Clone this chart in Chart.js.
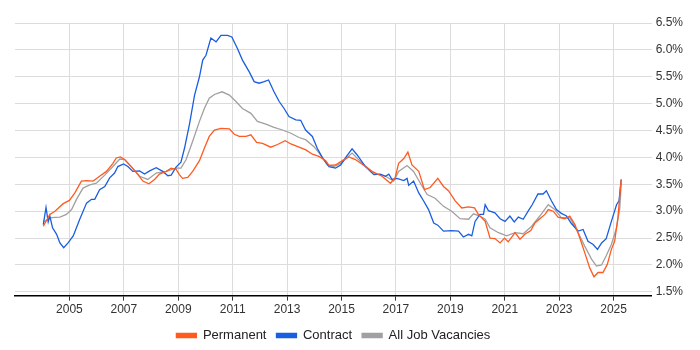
<!DOCTYPE html>
<html>
<head>
<meta charset="utf-8">
<script src="https://cdn.jsdelivr.net/npm/chart.js@4.4.1/dist/chart.umd.min.js"></script>
<style>
  html, body { margin: 0; padding: 0; background: #fff; }
  #wrap { width: 700px; height: 350px; position: relative; }
</style>
</head>
<body>
<div id="wrap"><canvas id="trendChart"></canvas></div>
<script>
// Year ticks shown on the x axis and percentage ticks on the y axis
const yearTicks = [2005, 2007, 2009, 2011, 2013, 2015, 2017, 2019, 2021, 2023, 2025];
const pctTicks = [1.5, 2.0, 2.5, 3.0, 3.5, 4.0, 4.5, 5.0, 5.5, 6.0, 6.5];

// Permanent
const permYears = [2004.04, 2004.28, 2004.47, 2004.77, 2005.0, 2005.2, 2005.44, 2005.63, 2005.87, 2006.11,
  2006.36, 2006.6, 2006.72, 2006.87, 2007.03, 2007.27, 2007.52, 2007.7, 2007.92, 2008.13,
  2008.31, 2008.56, 2008.74, 2008.92, 2009.04, 2009.16, 2009.35, 2009.53, 2009.78, 2009.96,
  2010.14, 2010.33, 2010.57, 2010.88, 2011.06, 2011.24, 2011.49, 2011.67, 2011.88, 2012.1,
  2012.4, 2012.65, 2012.93, 2013.14, 2013.44, 2013.69, 2013.93, 2014.17, 2014.42, 2014.54,
  2014.78, 2015.03, 2015.27, 2015.51, 2015.88, 2016.12, 2016.49, 2016.8, 2016.97, 2017.1,
  2017.29, 2017.44, 2017.59, 2017.84, 2018.05, 2018.26, 2018.54, 2018.75, 2018.93, 2019.18,
  2019.42, 2019.67, 2019.89, 2020.03, 2020.28, 2020.46, 2020.64, 2020.83, 2020.99, 2021.13,
  2021.38, 2021.56, 2021.74, 2021.96, 2022.11, 2022.29, 2022.48, 2022.6, 2022.78, 2022.96,
  2023.21, 2023.39, 2023.58, 2023.76, 2023.94, 2024.12, 2024.28, 2024.43, 2024.61, 2024.77,
  2024.92, 2025.04, 2025.16, 2025.28];
const permValues = [2.72, 2.94, 3.0, 3.14, 3.2, 3.34, 3.56, 3.57, 3.56, 3.65,
  3.74, 3.89, 3.99, 4.01, 3.96, 3.83, 3.68, 3.56, 3.51, 3.59,
  3.69, 3.74, 3.8, 3.78, 3.68, 3.61, 3.63, 3.74, 3.94, 4.17,
  4.39, 4.51, 4.54, 4.53, 4.43, 4.39, 4.39, 4.42, 4.28, 4.26,
  4.19, 4.24, 4.31, 4.25, 4.19, 4.14, 4.06, 4.02, 3.94, 3.85,
  3.86, 3.94, 4.01, 3.96, 3.83, 3.74, 3.65, 3.52, 3.62, 3.89,
  3.98, 4.1, 3.86, 3.74, 3.4, 3.44, 3.61, 3.46, 3.38, 3.19,
  3.06, 3.08, 3.06, 2.94, 2.81, 2.5, 2.49, 2.41, 2.5, 2.43,
  2.6, 2.48, 2.57, 2.64, 2.78, 2.86, 2.94, 3.03, 3.0, 2.89,
  2.86, 2.91, 2.75, 2.5, 2.23, 1.95, 1.78, 1.86, 1.86, 2.01,
  2.29, 2.44, 2.88, 3.59];

// Contract
const contYears = [2004.04, 2004.14, 2004.22, 2004.28, 2004.38, 2004.53, 2004.65, 2004.79, 2004.95, 2005.14,
  2005.38, 2005.63, 2005.81, 2005.93, 2006.11, 2006.3, 2006.48, 2006.66, 2006.78, 2006.99,
  2007.15, 2007.33, 2007.58, 2007.76, 2007.95, 2008.19, 2008.43, 2008.62, 2008.74, 2008.92,
  2009.1, 2009.23, 2009.41, 2009.6, 2009.78, 2009.9, 2010.02, 2010.2, 2010.39, 2010.57,
  2010.81, 2010.97, 2011.18, 2011.36, 2011.61, 2011.79, 2011.97, 2012.16, 2012.32, 2012.52,
  2012.71, 2012.89, 2013.07, 2013.32, 2013.5, 2013.68, 2013.93, 2014.11, 2014.29, 2014.54,
  2014.78, 2014.97, 2015.21, 2015.39, 2015.57, 2015.88, 2016.19, 2016.43, 2016.62, 2016.74,
  2016.86, 2017.04, 2017.29, 2017.41, 2017.47, 2017.65, 2017.84, 2018.02, 2018.2, 2018.39,
  2018.54, 2018.75, 2019.05, 2019.3, 2019.48, 2019.67, 2019.79, 2019.91, 2020.09, 2020.22,
  2020.28, 2020.4, 2020.64, 2020.83, 2021.01, 2021.19, 2021.35, 2021.5, 2021.68, 2021.86,
  2022.01, 2022.22, 2022.41, 2022.53, 2022.72, 2022.9, 2023.08, 2023.27, 2023.45, 2023.7,
  2023.88, 2024.06, 2024.25, 2024.41, 2024.56, 2024.73, 2024.92, 2025.11, 2025.2, 2025.28];
const contValues = [2.75, 3.07, 2.8, 2.91, 2.69, 2.57, 2.41, 2.32, 2.41, 2.54,
  2.85, 3.15, 3.22, 3.22, 3.4, 3.46, 3.62, 3.71, 3.83, 3.88,
  3.83, 3.74, 3.75, 3.69, 3.75, 3.81, 3.74, 3.66, 3.67, 3.82,
  3.91, 4.17, 4.61, 5.16, 5.5, 5.81, 5.9, 6.22, 6.15, 6.27,
  6.27, 6.24, 6.02, 5.81, 5.59, 5.41, 5.38, 5.41, 5.44, 5.22,
  5.04, 4.91, 4.76, 4.7, 4.69, 4.51, 4.39, 4.17, 4.0, 3.83,
  3.8, 3.86, 4.04, 4.16, 4.05, 3.83, 3.68, 3.69, 3.65, 3.69,
  3.59, 3.61, 3.57, 3.61, 3.48, 3.56, 3.34, 3.19, 3.03, 2.78,
  2.74, 2.63, 2.64, 2.63, 2.52, 2.57, 2.54, 2.81, 2.94, 2.94,
  3.12, 3.01, 2.97, 2.86, 2.81, 2.91, 2.8, 2.89, 2.85, 3.0,
  3.12, 3.32, 3.32, 3.38, 3.19, 3.03, 2.96, 2.91, 2.77, 2.63,
  2.66, 2.44, 2.38, 2.29, 2.41, 2.49, 2.81, 3.12, 3.19, 3.59];

// All Job Vacancies
const allYears = [2004.04, 2004.34, 2004.65, 2004.89, 2005.08, 2005.26, 2005.5, 2005.75, 2005.99, 2006.3,
  2006.6, 2006.85, 2007.03, 2007.27, 2007.58, 2007.88, 2008.19, 2008.56, 2008.92, 2009.1,
  2009.29, 2009.53, 2009.78, 2009.96, 2010.14, 2010.33, 2010.61, 2010.88, 2011.12, 2011.36,
  2011.67, 2011.91, 2012.22, 2012.52, 2012.83, 2013.14, 2013.44, 2013.68, 2013.99, 2014.23,
  2014.48, 2014.72, 2014.97, 2015.21, 2015.39, 2015.76, 2016.19, 2016.62, 2016.92, 2017.1,
  2017.41, 2017.65, 2017.9, 2018.15, 2018.44, 2018.75, 2019.05, 2019.36, 2019.67, 2019.85,
  2020.09, 2020.28, 2020.46, 2020.77, 2021.07, 2021.38, 2021.68, 2021.99, 2022.29, 2022.6,
  2022.84, 2023.08, 2023.39, 2023.7, 2023.94, 2024.19, 2024.37, 2024.56, 2024.73, 2024.92,
  2025.11, 2025.23, 2025.28];
const allValues = [2.8, 2.88, 2.89, 2.94, 3.03, 3.22, 3.43, 3.49, 3.52, 3.67,
  3.83, 3.97, 3.96, 3.83, 3.65, 3.59, 3.71, 3.74, 3.8, 3.8,
  3.96, 4.3, 4.67, 4.91, 5.1, 5.17, 5.22, 5.16, 5.04, 4.91,
  4.82, 4.67, 4.62, 4.56, 4.51, 4.45, 4.37, 4.33, 4.2, 4.05,
  3.86, 3.83, 3.89, 4.0, 4.08, 3.89, 3.71, 3.65, 3.56, 3.74,
  3.85, 3.74, 3.52, 3.31, 3.24, 3.09, 3.0, 2.86, 2.85, 2.95,
  2.91, 2.85, 2.69, 2.6, 2.54, 2.6, 2.58, 2.72, 2.91, 3.12,
  3.03, 2.88, 2.88, 2.6, 2.35, 2.11, 1.98, 2.0, 2.17, 2.38,
  2.69, 3.06, 3.52];

const toPoints = (xs, ys) => xs.map((x, i) => ({ x: x, y: ys[i] }));

const FONT = '"Liberation Sans", Arial, sans-serif';

// The legend in the original is centred under the plot area, not the whole canvas
const centerLegendOnPlot = {
    id: 'centerLegendOnPlot',
    afterLayout: (chart) => {
        const lg = chart.legend;
        const area = chart.chartArea;
        if (!lg || !area) return;
        lg.left = area.left;
        lg.right = area.right;
        lg.width = area.right - area.left;
    }
};

const ctx = document.getElementById('trendChart');
new Chart(ctx, {
    type: 'line',
    data: {
        datasets: [
            {
                label: 'Permanent',
                data: toPoints(permYears, permValues),
                borderColor: '#ff5a1f',
                backgroundColor: '#ff5a1f',
                borderWidth: 1.3,
                pointRadius: 0,
                tension: 0
            },
            {
                label: 'Contract',
                data: toPoints(contYears, contValues),
                borderColor: '#1a5ee0',
                backgroundColor: '#1a5ee0',
                borderWidth: 1.3,
                pointRadius: 0,
                tension: 0
            },
            {
                label: 'All Job Vacancies',
                data: toPoints(allYears, allValues),
                borderColor: '#a0a0a0',
                backgroundColor: '#a0a0a0',
                borderWidth: 1.3,
                pointRadius: 0,
                tension: 0
            }
        ]
    },
    options: {
        responsive: true,
        maintainAspectRatio: false,
        animation: false,
        // legend text sits a bit lower in the original, hence the negative bottom
        layout: { padding: { left: 15, right: 13, top: 23, bottom: -2 } },
        scales: {
            x: {
                type: 'linear',
                min: 2003.0,
                max: 2026.4,
                afterBuildTicks: (axis) => { axis.ticks = yearTicks.map(v => ({ value: v })); },
                grid: { color: '#dcdcdc', tickLength: 5, tickColor: '#333' },
                border: { color: '#000', width: 1.5 },
                ticks: {
                    color: '#333',
                    font: { family: FONT, size: 12 },
                    padding: 2,
                    maxRotation: 0,
                    callback: (v) => String(v)
                }
            },
            y: {
                position: 'right',
                min: 1.43,
                max: 6.5,
                afterBuildTicks: (axis) => { axis.ticks = pctTicks.map(v => ({ value: v })); },
                grid: { color: '#dcdcdc', drawTicks: false },
                border: { display: false },
                ticks: {
                    color: '#333',
                    font: { family: FONT, size: 12 },
                    padding: 4,
                    callback: (v) => v.toFixed(1) + '%'
                }
            }
        },
        plugins: {
            legend: {
                position: 'bottom',
                labels: {
                    color: '#222',
                    font: { family: FONT, size: 13 },
                    boxWidth: 20,
                    boxHeight: 4,
                    padding: 10
                }
            },
            tooltip: { enabled: false }
        }
    },
    plugins: [centerLegendOnPlot]
});
</script>
</body>
</html>
